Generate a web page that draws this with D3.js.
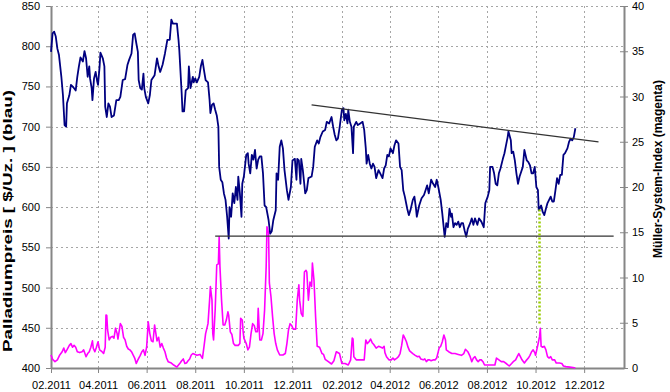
<!DOCTYPE html>
<html>
<head>
<meta charset="utf-8">
<script src="https://cdn.jsdelivr.net/npm/d3@7"></script>
<style>
  body { margin: 0; background: #fff; }
  svg { display: block; font-family: "Liberation Sans", Arial, sans-serif; }
</style>
</head>
<body>
<svg id="chart" width="670" height="392"></svg>
<script>
// Palladium price (left axis, $/oz)
const priceDates = [
  "2011-02-01","2011-02-03","2011-02-05","2011-02-07","2011-02-09","2011-02-11","2011-02-14","2011-02-16","2011-02-18","2011-02-20",
  "2011-02-21","2011-02-24","2011-02-26","2011-03-01","2011-03-04","2011-03-06","2011-03-08","2011-03-10","2011-03-13","2011-03-15",
  "2011-03-17","2011-03-19","2011-03-21","2011-03-22","2011-03-24","2011-03-25","2011-03-27","2011-03-29","2011-03-31","2011-04-01",
  "2011-04-03","2011-04-04","2011-04-07","2011-04-09","2011-04-10","2011-04-12","2011-04-14","2011-04-16","2011-04-18","2011-04-21",
  "2011-04-24","2011-04-27","2011-04-29","2011-05-02","2011-05-05","2011-05-08","2011-05-10","2011-05-13","2011-05-15","2011-05-17",
  "2011-05-19","2011-05-21","2011-05-22","2011-05-24","2011-05-26","2011-05-28","2011-05-29","2011-05-31","2011-06-03","2011-06-05",
  "2011-06-07","2011-06-11","2011-06-14","2011-06-16","2011-06-18","2011-06-21","2011-06-24","2011-06-27","2011-06-30","2011-07-02",
  "2011-07-04","2011-07-09","2011-07-11","2011-07-12","2011-07-15","2011-07-16","2011-07-18","2011-07-20","2011-07-23","2011-07-24",
  "2011-07-26","2011-07-29","2011-07-30","2011-08-01","2011-08-03","2011-08-06","2011-08-08","2011-08-10","2011-08-12","2011-08-14",
  "2011-08-17","2011-08-19","2011-08-20","2011-08-22","2011-08-24","2011-08-26","2011-08-28","2011-08-30","2011-08-31","2011-09-02",
  "2011-09-04","2011-09-06","2011-09-08","2011-09-10","2011-09-12","2011-09-13","2011-09-15","2011-09-17","2011-09-19","2011-09-21",
  "2011-09-23","2011-09-24","2011-09-26","2011-09-28","2011-09-29","2011-10-01","2011-10-04","2011-10-06","2011-10-07","2011-10-09",
  "2011-10-11","2011-10-13","2011-10-15","2011-10-17","2011-10-19","2011-10-21","2011-10-23","2011-10-25","2011-10-27","2011-10-29",
  "2011-11-01","2011-11-03","2011-11-05","2011-11-07","2011-11-10","2011-11-11","2011-11-13","2011-11-15","2011-11-17","2011-11-19",
  "2011-11-21","2011-11-24","2011-11-26","2011-11-29","2011-12-01","2011-12-04","2011-12-06","2011-12-07","2011-12-09","2011-12-11",
  "2011-12-12","2011-12-14","2011-12-17","2011-12-19","2011-12-21","2011-12-25","2011-12-27","2011-12-29","2012-01-01","2012-01-03",
  "2012-01-05","2012-01-08","2012-01-11","2012-01-13","2012-01-16","2012-01-19","2012-01-21","2012-01-23","2012-01-25","2012-01-27",
  "2012-01-29","2012-02-01","2012-02-03","2012-02-04","2012-02-06","2012-02-08","2012-02-09","2012-02-11","2012-02-13","2012-02-15",
  "2012-02-16","2012-02-19","2012-02-21","2012-02-24","2012-02-27","2012-02-29","2012-03-02","2012-03-03","2012-03-05","2012-03-07",
  "2012-03-09","2012-03-11","2012-03-13","2012-03-15","2012-03-18","2012-03-21","2012-03-23","2012-03-25","2012-03-27","2012-03-29",
  "2012-03-31","2012-04-02","2012-04-05","2012-04-07","2012-04-09","2012-04-12","2012-04-14","2012-04-16","2012-04-18","2012-04-20",
  "2012-04-23","2012-04-25","2012-04-27","2012-04-30","2012-05-02","2012-05-04","2012-05-05","2012-05-08","2012-05-11","2012-05-14",
  "2012-05-16","2012-05-18","2012-05-20","2012-05-23","2012-05-25","2012-05-28","2012-05-30","2012-06-01","2012-06-04","2012-06-06",
  "2012-06-09","2012-06-11","2012-06-13","2012-06-15","2012-06-17","2012-06-18","2012-06-20","2012-06-22","2012-06-24","2012-06-26",
  "2012-06-28","2012-06-30","2012-07-02","2012-07-04","2012-07-06","2012-07-08","2012-07-11","2012-07-13","2012-07-15","2012-07-17",
  "2012-07-20","2012-07-22","2012-07-25","2012-07-28","2012-07-30","2012-08-02","2012-08-04","2012-08-05","2012-08-08","2012-08-10",
  "2012-08-12","2012-08-14","2012-08-16","2012-08-18","2012-08-21","2012-08-23","2012-08-25","2012-08-27","2012-08-28","2012-08-31",
  "2012-09-01","2012-09-03","2012-09-05","2012-09-07","2012-09-09","2012-09-11","2012-09-13","2012-09-15","2012-09-17","2012-09-20",
  "2012-09-22","2012-09-24","2012-09-26","2012-09-28","2012-09-30","2012-10-02","2012-10-04","2012-10-05","2012-10-08","2012-10-10",
  "2012-10-12","2012-10-14","2012-10-16","2012-10-18","2012-10-20","2012-10-22","2012-10-24","2012-10-26","2012-10-28","2012-10-30",
  "2012-11-01","2012-11-03","2012-11-05","2012-11-07","2012-11-10","2012-11-12","2012-11-14","2012-11-16","2012-11-18","2012-11-20"
];
const priceValues = [
  793,816,818,812,797,789,762,739,702,700,
  729,739,752,749,745,762,775,786,781,794,
  785,762,775,760,748,733,760,768,756,752,
  775,792,785,775,725,712,729,725,712,714,
  733,733,737,758,759,777,783,791,814,816,
  804,793,758,748,746,766,748,737,729,739,
  758,764,785,775,768,777,791,808,808,833,
  828,828,808,795,741,719,719,745,748,775,
  748,762,755,760,755,762,775,783,770,758,
  755,733,717,727,729,721,714,700,650,634,
  631,617,609,588,561,600,588,617,605,625,
  609,638,617,588,629,638,665,667,654,642,
  665,659,671,648,659,663,663,642,602,600,
  584,567,570,584,596,642,634,675,683,673,
  646,621,609,625,658,660,634,660,658,629,
  660,646,617,621,636,638,650,675,683,679,
  687,694,696,706,704,712,700,690,683,685,
  698,721,723,708,716,704,721,706,700,667,
  700,706,702,704,706,696,673,654,665,654,
  648,654,650,636,646,640,636,648,652,665,
  663,673,667,677,683,679,650,646,621,613,
  598,590,596,609,613,598,588,602,611,615,
  621,627,617,634,630,625,634,625,609,592,
  563,580,575,598,588,592,575,580,578,582,
  575,580,580,571,563,573,580,586,578,586,
  578,586,582,575,605,613,621,650,650,642,
  629,627,642,648,660,667,677,687,694,683,
  667,669,658,642,629,638,644,650,671,658,
  656,652,642,642,650,625,621,596,602,594,
  590,598,605,609,613,607,607,621,636,629,
  640,640,665,667,673,681,685,683,687,698
];

// Mueller-System-Index (right axis)
const indexDates = [
  "2011-02-01","2011-02-03","2011-02-06","2011-02-09","2011-02-12","2011-02-15","2011-02-17","2011-02-19","2011-02-21","2011-02-24",
  "2011-02-26","2011-02-28","2011-03-02","2011-03-04","2011-03-06","2011-03-09","2011-03-12","2011-03-14","2011-03-17","2011-03-19",
  "2011-03-21","2011-03-23","2011-03-25","2011-03-26","2011-03-28","2011-03-30","2011-04-01","2011-04-03","2011-04-06","2011-04-08",
  "2011-04-10","2011-04-11","2011-04-12","2011-04-13","2011-04-15","2011-04-17","2011-04-19","2011-04-21","2011-04-23","2011-04-25",
  "2011-04-26","2011-04-29","2011-05-01","2011-05-03","2011-05-05","2011-05-07","2011-05-09","2011-05-11","2011-05-13","2011-05-15",
  "2011-05-17","2011-05-19","2011-05-21","2011-05-24","2011-05-26","2011-05-28","2011-05-30","2011-06-01","2011-06-03","2011-06-05",
  "2011-06-07","2011-06-09","2011-06-11","2011-06-14","2011-06-16","2011-06-18","2011-06-20","2011-06-22","2011-06-24","2011-06-26",
  "2011-06-28","2011-07-02","2011-07-05","2011-07-09","2011-07-11","2011-07-13","2011-07-15","2011-07-17","2011-07-19","2011-07-21",
  "2011-07-23","2011-07-25","2011-07-27","2011-07-29","2011-08-03","2011-08-07","2011-08-10","2011-08-12","2011-08-14","2011-08-17",
  "2011-08-19","2011-08-20","2011-08-22","2011-08-23","2011-08-24","2011-08-26","2011-08-28","2011-08-30","2011-08-31","2011-09-01",
  "2011-09-03","2011-09-05","2011-09-07","2011-09-09","2011-09-11","2011-09-12","2011-09-14","2011-09-16","2011-09-18","2011-09-20",
  "2011-09-24","2011-09-26","2011-09-27","2011-09-29","2011-09-30","2011-10-01","2011-10-04","2011-10-06","2011-10-08","2011-10-10",
  "2011-10-12","2011-10-14","2011-10-16","2011-10-18","2011-10-19","2011-10-21","2011-10-23","2011-10-25","2011-10-27","2011-10-29",
  "2011-10-30","2011-11-01","2011-11-02","2011-11-04","2011-11-06","2011-11-08","2011-11-10","2011-11-12","2011-11-15","2011-11-19",
  "2011-11-22","2011-11-24","2011-11-26","2011-11-28","2011-11-30","2011-12-02","2011-12-05","2011-12-07","2011-12-09","2011-12-10",
  "2011-12-12","2011-12-14","2011-12-16","2011-12-18","2011-12-19","2011-12-21","2011-12-23","2011-12-25","2011-12-26","2011-12-28",
  "2011-12-30","2012-01-01","2012-01-04","2012-01-07","2012-01-09","2012-01-11","2012-01-15","2012-01-19","2012-01-22","2012-01-25",
  "2012-01-29","2012-02-01","2012-02-05","2012-02-09","2012-02-12","2012-02-14","2012-02-15","2012-02-16","2012-02-19","2012-02-24",
  "2012-02-29","2012-03-02","2012-03-04","2012-03-06","2012-03-08","2012-03-10","2012-03-12","2012-03-15","2012-03-18","2012-03-21",
  "2012-03-23","2012-03-25","2012-03-26","2012-03-28","2012-03-31","2012-04-03","2012-04-05","2012-04-07","2012-04-10","2012-04-12",
  "2012-04-14","2012-04-16","2012-04-18","2012-04-20","2012-04-22","2012-04-24","2012-04-26","2012-04-30","2012-05-03","2012-05-06",
  "2012-05-08","2012-05-10","2012-05-13","2012-05-15","2012-05-17","2012-05-19","2012-05-21","2012-05-23","2012-05-26","2012-05-28",
  "2012-05-30","2012-06-02","2012-06-04","2012-06-06","2012-06-08","2012-06-10","2012-06-11","2012-06-14","2012-06-18","2012-06-22",
  "2012-06-26","2012-06-30","2012-07-03","2012-07-05","2012-07-08","2012-07-11","2012-07-13","2012-07-15","2012-07-17","2012-07-19",
  "2012-07-21","2012-07-23","2012-07-25","2012-07-27","2012-07-29","2012-08-02","2012-08-07","2012-08-11","2012-08-13","2012-08-16",
  "2012-08-19","2012-08-22","2012-08-26","2012-08-29","2012-09-01","2012-09-03","2012-09-06","2012-09-08","2012-09-10","2012-09-12",
  "2012-09-14","2012-09-17","2012-09-20","2012-09-22","2012-09-24","2012-09-26","2012-09-28","2012-09-30","2012-10-01","2012-10-03",
  "2012-10-04","2012-10-06","2012-10-07","2012-10-08","2012-10-10","2012-10-12","2012-10-14","2012-10-16","2012-10-18","2012-10-20",
  "2012-10-22","2012-10-25","2012-10-27","2012-10-31","2012-11-03","2012-11-05","2012-11-08","2012-11-13","2012-11-17","2012-11-20"
];
const indexValues = [
  1.44,0.96,0.70,0.90,1.44,1.80,2.20,1.70,2.00,2.50,
  2.70,2.30,2.50,2.30,1.80,1.70,1.80,2.00,1.25,1.60,
  1.80,2.30,3.00,2.20,1.80,2.30,2.90,2.00,1.80,1.60,
  2.30,5.86,5.80,4.20,3.10,3.40,3.50,3.30,4.40,3.80,
  3.20,4.90,4.60,3.40,3.10,2.40,2.10,2.00,1.80,1.44,
  1.10,0.50,0.90,1.40,1.80,2.00,1.40,2.30,5.10,3.80,
  3.00,2.90,4.75,3.00,3.40,2.30,2.70,2.20,1.80,1.10,
  0.70,0.55,0.33,0.10,0.33,0.55,0.80,1.00,0.50,0.55,
  0.80,1.00,1.44,1.60,1.40,1.50,1.07,2.40,3.80,4.90,
  7.50,9.00,7.50,3.80,3.10,6.40,11.40,11.50,14.50,11.20,
  7.50,4.75,4.75,5.30,6.20,5.80,4.00,3.70,2.70,2.50,
  2.50,2.70,5.50,5.30,4.10,3.30,2.70,2.00,2.30,3.80,
  4.90,4.70,4.00,4.00,6.60,3.10,3.10,3.80,6.40,11.20,
  15.60,14.90,9.40,7.90,5.70,3.80,2.70,2.00,1.44,1.44,
  1.60,2.70,4.20,4.90,4.70,4.30,4.30,7.50,9.20,7.50,
  6.00,5.70,10.60,10.80,10.60,7.50,9.50,9.00,11.60,9.70,
  5.70,2.40,2.30,1.60,1.50,0.96,0.70,0.44,0.80,1.80,
  1.60,0.50,0.50,0.33,0.90,3.30,3.20,1.25,0.90,0.90,
  0.90,3.10,2.70,2.90,3.20,2.80,2.60,2.20,2.40,2.30,
  2.20,2.40,1.70,1.25,0.90,0.90,1.10,0.90,1.10,1.25,
  1.60,2.50,3.65,3.30,2.90,2.30,1.90,1.60,1.40,1.25,
  1.30,1.00,0.90,1.00,0.70,0.90,0.90,0.80,0.90,0.90,
  1.10,2.20,2.40,2.90,3.65,3.10,2.00,1.80,1.60,1.60,
  1.50,1.40,1.60,2.07,1.80,1.25,0.70,1.10,1.25,0.90,
  0.70,0.90,0.90,0.70,0.33,0.33,0.33,0.33,1.10,0.90,
  0.70,0.70,0.44,0.22,0.50,0.70,0.90,1.25,1.60,1.25,
  0.90,0.55,0.90,1.10,1.40,1.80,2.00,1.70,1.40,2.20,
  2.60,3.46,4.40,2.40,2.30,2.40,2.00,1.25,1.10,1.25,
  0.90,0.90,0.55,0.55,0.50,0.22,0.15,0.10,0.05,0.00
];

// hand-drawn trend lines
const resistanceDates = ["2011-12-25", "2012-12-19"];
const resistanceValues = [727, 681];
const supportDates = ["2011-08-26", "2013-01-07"];
const supportValues = [564, 564];
const signalDate = "2012-10-06";
const signalPriceTop = 597;
const signalIndexBottom = 4.9;

const priceTicks = [400, 450, 500, 550, 600, 650, 700, 750, 800, 850];
const indexTicks = [0, 5, 10, 15, 20, 25, 30, 35, 40];
const monthTicks = ["2011-02-01","2011-04-01","2011-06-01","2011-08-01","2011-10-01","2011-12-01",
  "2012-02-01","2012-04-01","2012-06-01","2012-08-01","2012-10-01","2012-12-01"];

const parse = d3.utcParse("%Y-%m-%d");
const fmt = d3.utcFormat("%m.%Y");

const width = 670, height = 392;
const margin = { top: 6, right: 46, bottom: 24, left: 51 };
const innerW = width - margin.left - margin.right;
const innerH = height - margin.top - margin.bottom;

const svg = d3.select("#chart");
const g = svg.append("g").attr("transform", `translate(${margin.left},${margin.top})`);

const x = d3.scaleUtc([parse("2011-02-01"), parse("2013-01-20")], [0, innerW]);
const yL = d3.scaleLinear([400, 850], [innerH, 0]);
const yR = d3.scaleLinear([0, 40], [innerH, 0]);

const priceData = priceDates.map((d, i) => ({ date: parse(d), value: priceValues[i] }));
const indexData = indexDates.map((d, i) => ({ date: parse(d), value: indexValues[i] }));
const tickDates = monthTicks.map(parse);

// grid
const grid = g.append("g")
	.attr("stroke", "#a6a6a6")
	.attr("stroke-width", 1)
	.attr("stroke-dasharray", "2,3");
grid.selectAll(".hg")
	.data(priceTicks.filter((t) => t > 400))
	.join("line")
	.attr("x1", 0)
	.attr("x2", innerW)
	.attr("y1", (d) => Math.round(yL(d)) + 0.5)
	.attr("y2", (d) => Math.round(yL(d)) + 0.5);
grid.selectAll(".vg")
	.data(tickDates.slice(1))
	.join("line")
	.attr("y1", 0)
	.attr("y2", innerH)
	.attr("x1", (d) => Math.round(x(d)) + 0.5)
	.attr("x2", (d) => Math.round(x(d)) + 0.5);

// axes
function styleAxis(sel) {
	sel.selectAll("text").attr("fill", "#000").style("font-size", "11px");
	sel.selectAll(".tick line").attr("stroke", "#868686");
	sel.select(".domain").attr("stroke", "#868686").attr("stroke-width", 2);
}

g.append("g")
	.call(d3.axisLeft(yL).tickValues(priceTicks).tickSize(5).tickSizeOuter(0).tickPadding(6))
	.call(styleAxis);

g.append("g")
	.attr("transform", `translate(0,${innerH})`)
	.call(d3.axisBottom(x).tickValues(tickDates).tickFormat(fmt).tickSize(5).tickSizeOuter(0).tickPadding(8))
	.call(styleAxis);

g.append("g")
	.attr("transform", `translate(${innerW},0)`)
	.call(d3.axisRight(yR).tickValues(indexTicks).tickSize(4).tickSizeOuter(0).tickPadding(4))
	.call(styleAxis)
	.call((a) => a.selectAll(".tick line").attr("x1", -4));

// lines
const priceLine = d3.line().x((d) => x(d.date)).y((d) => yL(d.value));
const indexLine = d3.line().x((d) => x(d.date)).y((d) => yR(d.value));

g.append("path")
	.datum(indexData)
	.attr("fill", "none")
	.attr("stroke", "#ff00ff")
	.attr("stroke-width", 1.6)
	.attr("stroke-linejoin", "round")
	.attr("d", indexLine);

g.append("path")
	.datum(priceData)
	.attr("fill", "none")
	.attr("stroke", "#000080")
	.attr("stroke-width", 1.8)
	.attr("stroke-linejoin", "round")
	.attr("d", priceLine);

// trend lines
const trendLine = d3.line().x((d) => x(d[0])).y((d) => yL(d[1]));
[[resistanceDates, resistanceValues], [supportDates, supportValues]].forEach(([ds, vs]) => {
	g.append("path")
		.datum(ds.map((d, i) => [parse(d), vs[i]]))
		.attr("fill", "none")
		.attr("stroke", "#333")
		.attr("stroke-width", 1.2)
		.attr("d", trendLine);
});

g.append("line")
	.attr("x1", x(parse(signalDate)))
	.attr("x2", x(parse(signalDate)))
	.attr("y1", yL(signalPriceTop))
	.attr("y2", yR(signalIndexBottom))
	.attr("stroke", "#99cc00")
	.attr("stroke-width", 2.5)
	.attr("stroke-dasharray", "2,2");

// axis titles
svg.append("text")
	.attr("transform", "translate(12,221) rotate(-90)")
	.attr("text-anchor", "middle")
	.attr("textLength", 262)
	.attr("lengthAdjust", "spacingAndGlyphs")
	.style("font-size", "13px")
	.style("font-weight", "bold")
	.text("Palladiumpreis [ $/Uz. ] (blau)");

svg.append("text")
	.attr("transform", "translate(662,169) rotate(-90)")
	.attr("text-anchor", "middle")
	.style("font-size", "12px")
	.style("font-weight", "bold")
	.text("Müller-System-Index (magenta)");
</script>
</body>
</html>
